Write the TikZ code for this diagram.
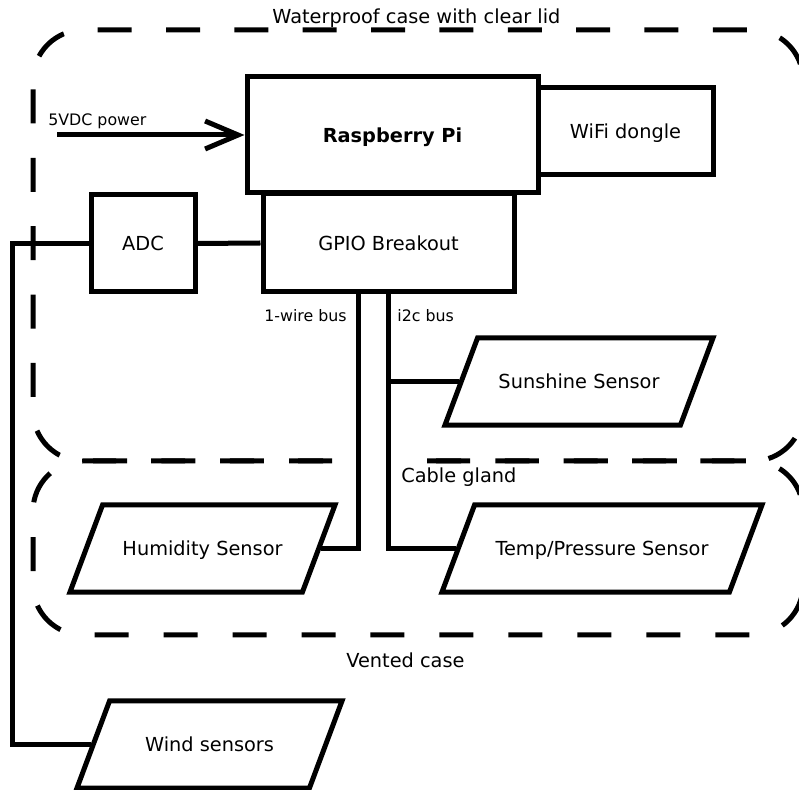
\documentclass[tikz,border=0pt]{standalone}
\usepackage{fontspec}
\setmainfont{DejaVu Sans}
\usetikzlibrary{positioning, arrows.meta, shapes.geometric}

\begin{document}
\begin{tikzpicture}[
    box/.style={rectangle, draw, line width=1mm, text height=9.5pt, text depth=1.5pt, font=\fontsize{11}{13}\selectfont},
    sensor/.style={trapezium, draw, line width=1mm, trapezium left angle=69.5, trapezium right angle=110.5, trapezium stretches body, text height=9.5pt, text depth=1.5pt, inner ysep=19.26pt, font=\fontsize{11}{13}\selectfont},
    wire/.style={line width=1mm},
    power/.style={line width=1mm, -{Straight Barb[length=6.6mm, width=5.6mm]}},
    casing/.style={line width=1mm, rounded corners=1cm},
    small/.style={font=\fontsize{9}{11}\selectfont, inner sep=0pt},
    casetext/.style={font=\fontsize{11}{13}\selectfont, inner sep=0pt}
]
\useasboundingbox (0,0) rectangle (15.98,-15.8);

% Cases, both open at the cable gland
\draw[casing, dash pattern=on 6.8mm off 6.87mm] (8.54,-9.22) -- (16.06,-9.22) -- (16.06,-0.6) -- (0.66,-0.6) -- (0.66,-9.22) -- (6.64,-9.22);
\draw[casing, dash pattern=on 6.8mm off 6.993mm, dash phase=11.993mm] (8.54,-9.22) -- (16.06,-9.22) -- (16.06,-12.7) -- (0.66,-12.7) -- (0.66,-9.22) -- (6.64,-9.22);

\node[casetext, anchor=base west] (lid) at (5.44,-0.48) {Waterproof case with clear lid};
\node[casetext, anchor=base west] (gland) at (8.02,-9.66) {Cable gland};
\node[casetext, anchor=base west] (vent) at (6.92,-13.36) {Vented case};

% Boards
\node[box, minimum width=5.82cm, minimum height=2.32cm, font=\fontsize{11}{13}\selectfont\bfseries] (rpi) at (7.85,-2.70) {Raspberry Pi};
\node[box, minimum width=3.5cm, minimum height=1.74cm] (wifi) at (12.51,-2.63) {WiFi dongle};
\node[box, minimum width=5.02cm, minimum height=1.96cm] (gpio) at (7.77,-4.86) {GPIO Breakout};
\node[box, minimum width=2.08cm, minimum height=1.94cm] (adc) at (2.86,-4.87) {ADC};

% Sensors
\node[sensor, minimum width=5.36cm] (sun) at (11.58,-7.63) {Sunshine Sensor};
\node[sensor, minimum width=6.4cm] (temp) at (12.04,-10.97) {Temp/Pressure Sensor};
\node[sensor, minimum width=5.3cm] (humid) at (4.05,-10.97) {Humidity Sensor};
\node[sensor, minimum width=5.3cm] (wind) at (4.19,-14.89) {Wind sensors};

% Power in
\coordinate (pwr) at (1.14,-2.70);
\draw[power] (pwr) -- (rpi.west);
\node[small, anchor=base west] (pwrtext) at (0.96,-2.52) {5VDC power};

% Buses
\coordinate (rail) at (0.26,-4.87);
\draw[wire] (adc.east) -- (gpio.west);
\draw[wire] (adc.west) -- (rail) |- (wind.west);
\draw[wire] ([xshift=-6mm]gpio.south) |- (humid.east);
\draw[wire] (gpio.south) |- (temp.west);
\draw[wire] (gpio.south |- sun.west) -- (sun.west);

\node[small, anchor=base east] (onewire) at (6.94,-6.44) {1-wire bus};
\node[small, anchor=base west] (i2c) at (7.94,-6.44) {i2c bus};

\end{tikzpicture}
\end{document}
